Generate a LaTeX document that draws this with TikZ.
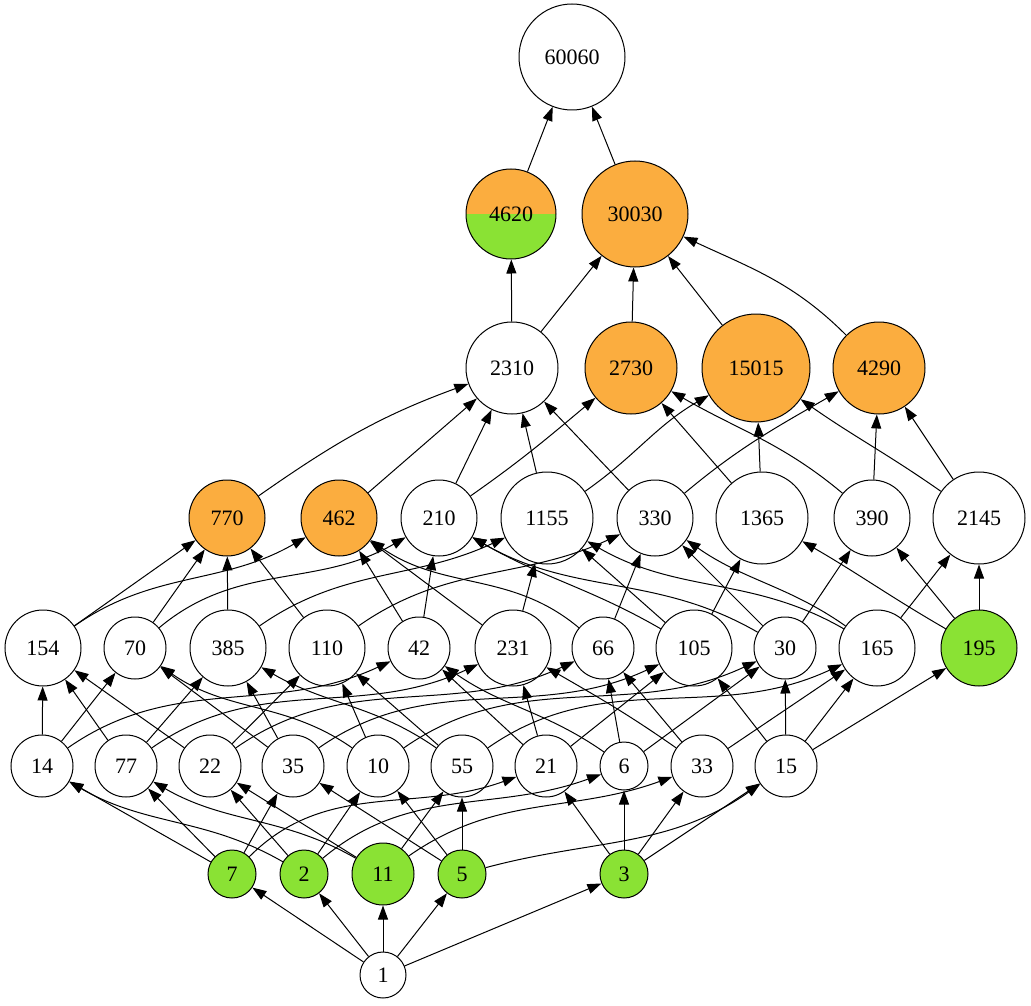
\documentclass[tikz,border=0pt]{standalone}
\usepackage{fontspec}
\setmainfont{Liberation Serif}
\usetikzlibrary{arrows.meta}
\definecolor{orng}{RGB}{251,173,63}
\definecolor{grn}{RGB}{138,226,52}
\begin{document}
\begin{tikzpicture}[x=1pt,y=1pt,
 nd/.style={circle,draw,line width=1pt,inner sep=0pt,font=\fontsize{22}{26}\selectfont},
 og/.style={nd,fill=orng}, gr/.style={nd,fill=grn},
 ed/.style={-{Triangle[length=14pt,width=10pt]},line width=1pt}]
\useasboundingbox (0,0) rectangle (1031,-1006);
% row 0
\node[nd,minimum size=106pt] (n60060) at (572,-57) {60060};
% row 1
\node[nd,minimum size=90pt,path picture={
  \fill[orng] (path picture bounding box.north west) rectangle (path picture bounding box.east);
  \fill[grn] (path picture bounding box.west) rectangle (path picture bounding box.south east);}] (n4620) at (511,-214) {4620};
\node[og,minimum size=106pt] (n30030) at (635,-214) {30030};
% row 2
\node[nd,minimum size=92pt] (n2310) at (512,-368) {2310};
\node[og,minimum size=92pt] (n2730) at (631,-368) {2730};
\node[og,minimum size=108pt] (n15015) at (756,-368) {15015};
\node[og,minimum size=92pt] (n4290) at (879,-368) {4290};
% row 3
\node[og,minimum size=76pt] (n770) at (227,-518) {770};
\node[og,minimum size=76pt] (n462) at (339,-518) {462};
\node[nd,minimum size=76pt] (n210) at (439,-518) {210};
\node[nd,minimum size=92pt] (n1155) at (547,-518) {1155};
\node[nd,minimum size=76pt] (n330) at (655,-518) {330};
\node[nd,minimum size=92pt] (n1365) at (762,-518) {1365};
\node[nd,minimum size=76pt] (n390) at (872,-518) {390};
\node[nd,minimum size=92pt] (n2145) at (979,-518) {2145};
% row 4
\node[nd,minimum size=76pt] (n154) at (43,-648) {154};
\node[nd,minimum size=62pt] (n70) at (135,-648) {70};
\node[nd,minimum size=76pt] (n385) at (228,-648) {385};
\node[nd,minimum size=76pt] (n110) at (327,-648) {110};
\node[nd,minimum size=62pt] (n42) at (419,-648) {42};
\node[nd,minimum size=76pt] (n231) at (513,-648) {231};
\node[nd,minimum size=62pt] (n66) at (603,-648) {66};
\node[nd,minimum size=76pt] (n105) at (694,-648) {105};
\node[nd,minimum size=62pt] (n30) at (785,-648) {30};
\node[nd,minimum size=76pt] (n165) at (877,-648) {165};
\node[gr,minimum size=76pt] (n195) at (979,-648) {195};
% row 5
\node[nd,minimum size=62pt] (n14) at (42,-766) {14};
\node[nd,minimum size=62pt] (n77) at (126,-766) {77};
\node[nd,minimum size=62pt] (n22) at (210,-766) {22};
\node[nd,minimum size=62pt] (n35) at (293,-766) {35};
\node[nd,minimum size=62pt] (n10) at (378,-766) {10};
\node[nd,minimum size=62pt] (n55) at (462,-766) {55};
\node[nd,minimum size=62pt] (n21) at (546,-766) {21};
\node[nd,minimum size=48pt] (n6) at (624,-766) {6};
\node[nd,minimum size=62pt] (n33) at (702,-766) {33};
\node[nd,minimum size=62pt] (n15) at (786,-766) {15};
% row 6
\node[gr,minimum size=48pt] (n7) at (232,-874) {7};
\node[gr,minimum size=48pt] (n2) at (304,-874) {2};
\node[gr,minimum size=62pt] (n11) at (383,-874) {11};
\node[gr,minimum size=48pt] (n5) at (462,-874) {5};
\node[gr,minimum size=48pt] (n3) at (624,-874) {3};
% row 7
\node[nd,minimum size=46pt] (n1) at (383,-975) {1};

% straight edges
\foreach \a/\b in {1/7,1/2,1/11,1/5,1/3,
  7/14,7/77,7/35,2/22,2/10,11/22,11/55,5/35,5/10,5/55,3/21,3/6,3/33,3/15,
  14/154,14/70,77/154,77/385,22/154,22/110,35/70,35/385,10/110,55/110,
  21/42,21/231,21/105,6/66,6/30,33/66,33/165,15/105,15/30,15/165,15/195,
  154/770,70/770,385/770,110/770,42/462,42/210,231/462,231/1155,66/330,
  105/1155,105/1365,30/330,30/390,165/2145,195/390,195/2145,
  462/2310,210/2310,1155/2310,330/2310,1365/2730,1365/15015,390/4290,2145/4290,
  2310/4620,2310/30030,2730/30030,15015/30030,4620/60060,30030/60060}
  \draw[ed] (n\a) -- (n\b);

% curved edges
\foreach \a/\b/\o/\i in {7/21/45/200, 2/14/150/-30, 2/6/40/200, 11/77/150/-30,
  11/33/35/200, 5/15/15/215,
  14/42/35/205, 77/231/35/205, 22/66/35/205, 35/105/35/205, 10/30/35/205, 55/165/35/205,
  10/70/145/-35, 55/385/145/-30, 6/42/145/-35, 33/231/145/-30,
  154/462/35/210, 70/210/40/210, 385/1155/35/205, 110/330/35/205,
  66/462/140/-35, 105/210/150/-30, 30/210/150/-30, 165/1155/150/-30,
  165/330/145/-35, 195/1365/150/-30,
  770/2310/35/200, 210/2730/35/220, 1155/15015/35/210, 330/4290/40/210,
  390/2730/140/-30, 2145/15015/145/-35, 4290/30030/135/-25}
  \draw[ed] (n\a) to[out=\o,in=\i] (n\b);
\end{tikzpicture}
\end{document}
